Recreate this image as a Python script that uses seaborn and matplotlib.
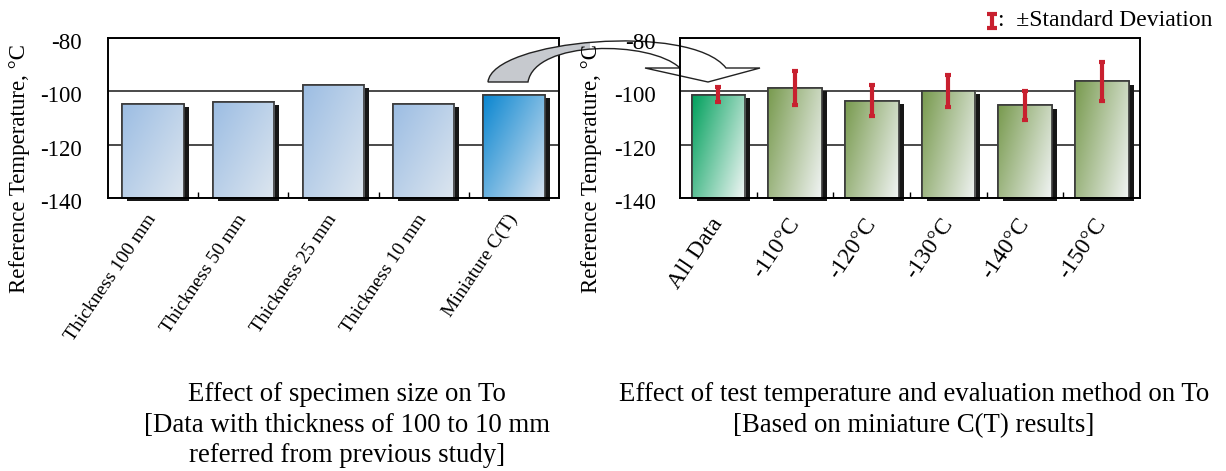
import numpy as np
import pandas as pd
import matplotlib
matplotlib.use("Agg")
import matplotlib.pyplot as plt
import seaborn as sns
from matplotlib.patches import Rectangle, PathPatch
from matplotlib.path import Path
from matplotlib.lines import Line2D
import matplotlib.patheffects as pe
from matplotlib.colors import to_rgb
from matplotlib.transforms import ScaledTranslation

# ---------------- data ----------------
left_categories = ["Thickness 100 mm", "Thickness 50 mm", "Thickness 25 mm",
                   "Thickness 10 mm", "Miniature C(T)"]
left_values = [-104.9, -103.9, -97.6, -104.9, -101.4]

right_categories = ["All Data", "-110°C", "-120°C", "-130°C", "-140°C", "-150°C"]
right_values = [-101.3, -98.7, -103.5, -99.9, -105.3, -96.3]
right_sd = [2.8, 6.5, 5.7, 5.9, 5.6, 7.3]

y_ticks = [-140, -120, -100, -80]
baseline = -140

left_caption = "Effect of specimen size on To\n[Data with thickness of 100 to 10 mm\nreferred from previous study]"
right_caption = "Effect of test temperature and evaluation method on To\n[Based on miniature C(T) results]"
legend_text = ":  ±Standard Deviation"
y_label = "Reference Temperature, °C"

# ---------------- style ----------------
sns.set_theme(style="white")
plt.rcParams['font.family'] = ['Liberation Serif', 'DejaVu Serif']
plt.rcParams['axes.unicode_minus'] = False

W, H = 1226, 471
fig = plt.figure(figsize=(W / 100, H / 100), dpi=100)


def fr(x0, y_top, w, h):
    return [x0 / W, 1 - (y_top + h) / H, w / W, h / H]


axL = fig.add_axes(fr(108, 38, 451, 160))
axR = fig.add_axes(fr(680, 38, 460, 160))

EDGE = '#3a3a3a'


def draw_bars(ax, cats, vals, width):
    df = pd.DataFrame({"cat": cats, "val": vals})
    df["h"] = df["val"] - baseline
    sns.barplot(data=df, x="cat", y="h", bottom=baseline, ax=ax, width=width,
                color="#aac4e2", edgecolor=EDGE, linewidth=1.2, saturation=1,
                zorder=2)
    bars = list(ax.patches)
    for p in bars:
        p.set_clip_on(False)
        p.set_path_effects([pe.SimplePatchShadow(offset=(3.6, -2.2),
                                                 shadow_rgbFace='#161616', alpha=1.0),
                            pe.Normal()])
    return bars


def gradient_fill(ax, p, c0, c1, angle_deg):
    x0, y0 = p.get_x(), p.get_y()
    w, h = p.get_width(), p.get_height()
    n = 80
    u = np.linspace(0, 1, n)
    X, Y = np.meshgrid(u, u)
    a = np.deg2rad(angle_deg)
    t = X * np.cos(a) + Y * np.sin(a)
    t = (t - t.min()) / (t.max() - t.min())
    img = (1 - t)[..., None] * np.array(to_rgb(c0)) + t[..., None] * np.array(to_rgb(c1))
    im = ax.imshow(img, extent=[x0, x0 + w, y0, y0 + h], origin='upper',
                   aspect='auto', zorder=2.2, interpolation='bilinear')
    im.set_clip_path(p)
    ax.add_patch(Rectangle((x0, y0), w, h, fill=False, edgecolor=EDGE,
                           lw=1.2, zorder=2.5, clip_on=False))


barsL = draw_bars(axL, left_categories, left_values, 0.68)
for i, p in enumerate(barsL):
    if i == len(barsL) - 1:
        gradient_fill(axL, p, '#0a86d0', '#d6e3f1', 40)
    else:
        gradient_fill(axL, p, '#9cbde3', '#dde6ef', 40)

barsR = draw_bars(axR, right_categories, right_values, 0.70)
for i, p in enumerate(barsR):
    if i == 0:
        gradient_fill(axR, p, '#00a05c', '#f4f7f7', 30)
    else:
        gradient_fill(axR, p, '#789a4e', '#f1f4f4', 25)

xs = [p.get_x() + p.get_width() / 2 for p in barsR]
axR.errorbar(xs, right_values, yerr=right_sd, fmt='none', ecolor='#c8202f',
             elinewidth=3, capsize=2.5, capthick=3, zorder=4)

for ax, cats, fs, xpad, ypad in ((axL, left_categories, 14, 13, 19),
                                  (axR, right_categories, 17, 16, 17.5)):
    n = len(cats)
    ax.set_ylim(-140, -80)
    ax.set_yticks(y_ticks)
    ax.set_xlim(-0.5, n - 0.5)
    ax.yaxis.grid(True, color='#3c3c3c', lw=1.3)
    ax.xaxis.grid(False)
    ax.set_axisbelow(True)
    for s in ax.spines.values():
        s.set_visible(True)
        s.set_color('black')
        s.set_linewidth(1.4)
    ax.tick_params(axis='y', length=0, pad=ypad, labelsize=16.5, colors='black')
    for lab in ax.get_yticklabels():
        lab.set_transform(lab.get_transform() + ScaledTranslation(0, -0.03, fig.dpi_scale_trans))
    ax.set_xticks(range(n))
    ax.set_xticklabels(cats, rotation=56, ha='right', va='center',
                       rotation_mode='anchor', fontsize=fs)
    ax.tick_params(axis='x', which='major', length=0, pad=xpad, colors='black')
    ax.set_xticks(np.arange(0.5, n - 1, 1), minor=True)
    ax.tick_params(axis='x', which='minor', direction='in', length=4, width=1,
                   color='black', bottom=True)
    ax.set_xlabel('')
    ax.set_ylabel(y_label, fontsize=16.5, color='black')

axL.yaxis.set_label_coords(-0.173, 0.184)
axR.yaxis.set_label_coords(-0.17, 0.184)

# right axes above the arrow, transparent background
axL.set_zorder(0)
axR.set_zorder(3)
axR.patch.set_alpha(0)

# ---------------- curved arrow (decoration) ----------------
def P(x, y):
    return (x / W, 1 - y / H)

verts = [P(488, 82),
         P(492, 40), P(690, 22), P(726, 68),
         P(760, 68), P(708, 82), P(645, 68), P(680, 68),
         P(650, 40), P(535, 40), P(528, 82),
         P(488, 82)]
codes = [Path.MOVETO,
         Path.CURVE4, Path.CURVE4, Path.CURVE4,
         Path.LINETO, Path.LINETO, Path.LINETO, Path.LINETO,
         Path.CURVE4, Path.CURVE4, Path.CURVE4,
         Path.CLOSEPOLY]
apath = Path(verts, codes)
white = PathPatch(apath, facecolor='white', edgecolor='none', transform=fig.transFigure, zorder=2)
gray = PathPatch(apath, facecolor='#c6c9ce', edgecolor='none', transform=fig.transFigure, zorder=2.05)
clipr = Rectangle((0, 0), 590 / W, 1, transform=fig.transFigure, visible=False)
fig.add_artist(clipr)
gray.set_clip_path(clipr)
outline = PathPatch(apath, facecolor='none', edgecolor='#222222', lw=1.0,
                    transform=fig.transFigure, zorder=2.1)
for a in (white, gray, outline):
    fig.add_artist(a)

# ---------------- legend ----------------
fig.add_artist(Line2D([992 / W, 992 / W], [1 - 14 / H, 1 - 28 / H], color='#c8202f',
                      lw=3, marker='_', markersize=7, mew=3, transform=fig.transFigure))
fig.text(998 / W, 1 - 20 / H, legend_text, fontsize=17, va='center', ha='left', color='black')

# ---------------- captions ----------------
fig.text(347 / W, 1 - 382 / H, left_caption, ha='center', va='top', fontsize=19.3,
         linespacing=1.3, color='black')
fig.text(914 / W, 1 - 382 / H, right_caption, ha='center', va='top', fontsize=19.3,
         linespacing=1.3, color='black')

fig.savefig("out.png", dpi=100)
